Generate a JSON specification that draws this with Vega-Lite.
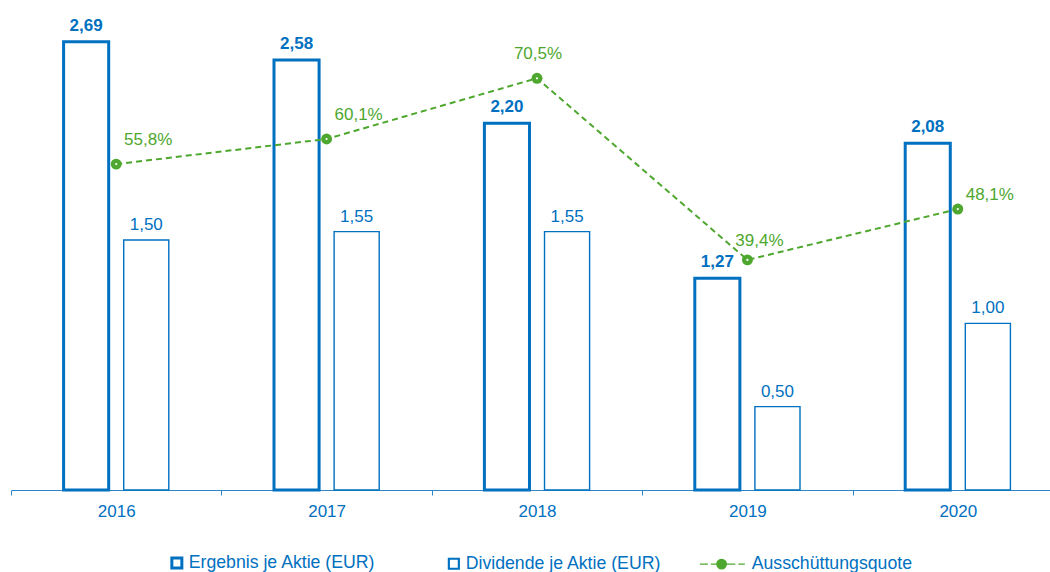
{
  "$schema": "https://vega.github.io/schema/vega-lite/v6.json",
  "width": 1052,
  "height": 490,
  "autosize": "none",
  "padding": {"left": 11, "top": 0, "right": 0, "bottom": 82},
  "background": "white",
  "config": {
    "view": {"stroke": null},
    "font": "Liberation Sans",
    "locale": {"number": {"decimal": ",", "thousands": ".", "grouping": [3], "currency": ["", " €"]}}
  },
  "data": {
    "values": [
      {"year": "2016", "series": "Ergebnis je Aktie (EUR)", "value": 2.69},
      {"year": "2017", "series": "Ergebnis je Aktie (EUR)", "value": 2.58},
      {"year": "2018", "series": "Ergebnis je Aktie (EUR)", "value": 2.20},
      {"year": "2019", "series": "Ergebnis je Aktie (EUR)", "value": 1.27},
      {"year": "2020", "series": "Ergebnis je Aktie (EUR)", "value": 2.08},
      {"year": "2016", "series": "Dividende je Aktie (EUR)", "value": 1.50},
      {"year": "2017", "series": "Dividende je Aktie (EUR)", "value": 1.55},
      {"year": "2018", "series": "Dividende je Aktie (EUR)", "value": 1.55},
      {"year": "2019", "series": "Dividende je Aktie (EUR)", "value": 0.50},
      {"year": "2020", "series": "Dividende je Aktie (EUR)", "value": 1.00},
      {"year": "2016", "series": "Ausschüttungsquote", "value": 0.558},
      {"year": "2017", "series": "Ausschüttungsquote", "value": 0.601},
      {"year": "2018", "series": "Ausschüttungsquote", "value": 0.705},
      {"year": "2019", "series": "Ausschüttungsquote", "value": 0.394},
      {"year": "2020", "series": "Ausschüttungsquote", "value": 0.481}
    ]
  },
  "encoding": {
    "x": {
      "field": "year", "type": "ordinal",
      "scale": {"type": "band", "paddingInner": 0, "paddingOuter": 0},
      "axis": {
        "title": null, "labelAngle": 0, "tickBand": "extent",
        "domainColor": "#2E86C9", "domainWidth": 1.2,
        "tickColor": "#2E86C9", "tickWidth": 1, "tickSize": 5,
        "labelColor": "#0070C0", "labelFont": "Liberation Sans", "labelFontSize": 17,
        "labelPadding": 8, "grid": false
      }
    }
  },
  "layer": [
    {
      "layer": [
        {
          "transform": [{"filter": "datum.series === 'Ergebnis je Aktie (EUR)'"}],
          "mark": {"type": "bar", "fill": "white", "stroke": "#0070C0", "strokeWidth": 3},
          "encoding": {
            "xOffset": {"field": "series", "type": "nominal", "scale": {"domain": ["Ergebnis je Aktie (EUR)", "Dividende je Aktie (EUR)"], "paddingInner": 0.25, "paddingOuter": 0.875}},
            "y": {"field": "value", "type": "quantitative", "scale": {"domain": [0, 2.94]}, "axis": null}
          }
        },
        {
          "transform": [{"filter": "datum.series === 'Dividende je Aktie (EUR)'"}],
          "mark": {"type": "bar", "fill": "white", "stroke": "#0070C0", "strokeWidth": 1.4},
          "encoding": {
            "xOffset": {"field": "series", "type": "nominal"},
            "y": {"field": "value", "type": "quantitative", "scale": {"domain": [0, 2.94]}, "axis": null}
          }
        },
        {
          "transform": [{"filter": "datum.series === 'Ergebnis je Aktie (EUR)'"}],
          "mark": {"type": "text", "dy": -11, "baseline": "alphabetic", "align": "center", "fontWeight": "bold", "fontSize": 17, "font": "Liberation Sans", "fill": "#0070C0"},
          "encoding": {
            "xOffset": {"field": "series", "type": "nominal"},
            "y": {"field": "value", "type": "quantitative", "scale": {"domain": [0, 2.94]}, "axis": null},
            "text": {"field": "value", "type": "quantitative", "format": ".2f"}
          }
        },
        {
          "transform": [{"filter": "datum.series === 'Dividende je Aktie (EUR)'"}],
          "mark": {"type": "text", "dy": -10, "baseline": "alphabetic", "align": "center", "fontSize": 17, "font": "Liberation Sans", "fill": "#0070C0"},
          "encoding": {
            "xOffset": {"field": "series", "type": "nominal"},
            "y": {"field": "value", "type": "quantitative", "scale": {"domain": [0, 2.94]}, "axis": null},
            "text": {"field": "value", "type": "quantitative", "format": ".2f"}
          }
        }
      ]
    },
    {
      "transform": [{"filter": "datum.series === 'Ausschüttungsquote'"}],
      "layer": [
        {
          "mark": {"type": "line", "stroke": "#4EA72E", "strokeWidth": 2, "strokeDash": [6, 4]},
          "encoding": {"y": {"field": "value", "type": "quantitative", "scale": {"domain": [0, 0.839]}, "axis": null}}
        },
        {
          "mark": {"type": "point", "shape": "circle", "filled": true, "size": 120, "color": "#4EA72E", "opacity": 1},
          "encoding": {"y": {"field": "value", "type": "quantitative", "scale": {"domain": [0, 0.839]}, "axis": null}}
        },
        {
          "mark": {"type": "point", "shape": "circle", "filled": true, "size": 5, "color": "white", "opacity": 1},
          "encoding": {"y": {"field": "value", "type": "quantitative", "scale": {"domain": [0, 0.839]}, "axis": null}}
        },
        {
          "transform": [{"filter": "datum.year === '2016' || datum.year === '2017'"}],
          "mark": {"type": "text", "dx": 32, "dy": -19, "baseline": "alphabetic", "align": "center", "fontSize": 17, "font": "Liberation Sans", "fill": "#4EA72E"},
          "encoding": {
            "y": {"field": "value", "type": "quantitative", "scale": {"domain": [0, 0.839]}, "axis": null},
            "text": {"field": "value", "type": "quantitative", "format": ".1%"}
          }
        },
        {
          "transform": [{"filter": "datum.year === '2018'"}],
          "mark": {"type": "text", "dx": 1, "dy": -19, "baseline": "alphabetic", "align": "center", "fontSize": 17, "font": "Liberation Sans", "fill": "#4EA72E"},
          "encoding": {
            "y": {"field": "value", "type": "quantitative", "scale": {"domain": [0, 0.839]}, "axis": null},
            "text": {"field": "value", "type": "quantitative", "format": ".1%"}
          }
        },
        {
          "transform": [{"filter": "datum.year === '2019'"}],
          "mark": {"type": "text", "dx": 12, "dy": -14, "baseline": "alphabetic", "align": "center", "fontSize": 17, "font": "Liberation Sans", "fill": "#4EA72E"},
          "encoding": {
            "y": {"field": "value", "type": "quantitative", "scale": {"domain": [0, 0.839]}, "axis": null},
            "text": {"field": "value", "type": "quantitative", "format": ".1%"}
          }
        },
        {
          "transform": [{"filter": "datum.year === '2020'"}],
          "mark": {"type": "text", "dx": 32, "dy": -9, "baseline": "alphabetic", "align": "center", "fontSize": 17, "font": "Liberation Sans", "fill": "#4EA72E"},
          "encoding": {
            "y": {"field": "value", "type": "quantitative", "scale": {"domain": [0, 0.839]}, "axis": null},
            "text": {"field": "value", "type": "quantitative", "format": ".1%"}
          }
        },
        {
          "transform": [{"filter": "datum.value < 0"}],
          "mark": {"type": "point", "filled": true, "opacity": 1},
          "encoding": {
            "y": {"field": "value", "type": "quantitative", "scale": {"domain": [0, 0.839]}, "axis": null},
            "shape": {
              "field": "series", "type": "nominal",
              "scale": {
                "domain": ["Ergebnis je Aktie (EUR)", "Dividende je Aktie (EUR)", "Ausschüttungsquote"],
                "range": ["square", "M-7.6,0h0M-1,-1H1V1H-1Z", "M-8,0H-6.4M-5.8,0H-4.6M-2.6,0H-0.9M-0.3,0H1M-2.7,0A0.95,0.95 0 1 1 -4.6,0A0.95,0.95 0 1 1 -2.7,0Z"]
              },
              "legend": {
                "orient": "none", "legendX": 157, "legendY": 554, "direction": "horizontal",
                "title": null, "labelFont": "Liberation Sans", "labelFontSize": 17.7, "labelColor": "#0070C0",
                "labelLimit": 400, "symbolSize": 100, "columnPadding": 35, "labelOffset": 3
              }
            },
            "stroke": {
              "field": "series", "type": "nominal",
              "scale": {"domain": ["Ergebnis je Aktie (EUR)", "Dividende je Aktie (EUR)", "Ausschüttungsquote"], "range": ["#0070C0", "#0070C0", "#4EA72E"]}
            },
            "fill": {
              "field": "series", "type": "nominal",
              "scale": {"domain": ["Ergebnis je Aktie (EUR)", "Dividende je Aktie (EUR)", "Ausschüttungsquote"], "range": ["#ffffff", "#ffffff", "#4EA72E"]}
            },
            "strokeWidth": {
              "field": "series", "type": "nominal",
              "scale": {"domain": ["Ergebnis je Aktie (EUR)", "Dividende je Aktie (EUR)", "Ausschüttungsquote"], "range": [3, 1.3, 2]}
            }
          }
        }
      ]
    }
  ],
  "resolve": {"scale": {"y": "independent"}}
}
